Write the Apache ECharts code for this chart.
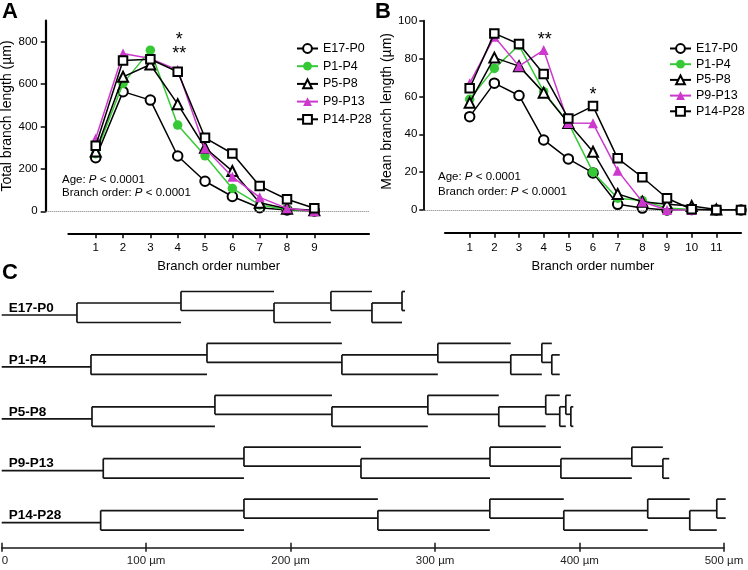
<!DOCTYPE html>
<html>
<head>
<meta charset="utf-8">
<script src="https://cdn.jsdelivr.net/npm/echarts@6/dist/echarts.min.js"></script>
<style>
html, body { margin: 0; padding: 0; background: #fff; }
#main { width: 748px; height: 570px; }
</style>
</head>
<body>
<div id="main"></div>
<script>
// age groups
var groups = ['E17-P0', 'P1-P4', 'P5-P8', 'P9-P13', 'P14-P28'];

// A: total branch length (um) per branch order
var ordersTotal = [1, 2, 3, 4, 5, 6, 7, 8, 9];
var totalE17 = [253, 565, 525, 261, 142, 70, 17, 6, 2];
var totalP1 = [272, 604, 761, 407, 262, 108, 30, 9, 2];
var totalP5 = [282, 635, 693, 506, 300, 190, 40, 12, 5];
var totalP9 = [344, 745, 721, 668, 297, 163, 66, 14, 0];
var totalP14 = [310, 712, 718, 659, 347, 273, 119, 57, 14];
var yTicksTotal = [0, 200, 400, 600, 800];
var xTicksTotal = [1, 2, 3, 4, 5, 6, 7, 8, 9];

// B: mean branch length (um) per branch order
var ordersMean = [1, 2, 3, 4, 5, 6, 7, 8, 9, 10, 11, 12];
var meanE17 = [49.3, 67, 60.5, 37, 27, 19.6, 3, 1, 0, 0.2, 0, 0];
var meanP1 = [58.5, 74.8, 87, 62.5, 46, 20, 6.2, 5, 1, 0.3, null, null];
var meanP5 = [56.7, 80.5, 76, 62, 46, 30.8, 8.5, 4.4, 3, 2.1, 0.3, null];
var meanP9 = [67, 91.5, 76, 84.5, 46, 45.8, 20.8, 4.4, 0, 0, null, null];
var meanP14 = [64.3, 93.3, 87.7, 71.8, 48.4, 54.9, 27.3, 17.3, 6.2, 0.4, 0, 0];
var xTicksMean = [1, 2, 3, 4, 5, 6, 7, 8, 9, 10, 11];

// C: dendrogram segment lengths (um), trunk first
var treeE17 = [52.1, 72.0, 64.4, 39.4, 28.4, 20.8, 2.1];
var treeP1 = [61.8, 80.3, 93.4, 66.4, 50.5, 21.5, 6.9, 5.5];
var treeP5 = [62.5, 85.1, 81.0, 66.4, 49.1, 32.5, 9.7, 4.2, 3.5, 1.7];
var treeP9 = [70.3, 97.4, 81.0, 89.3, 49.1, 49.1, 21.5, 4.4];
var treeP14 = [68.5, 99.2, 92.7, 77.5, 51.2, 58.1, 29.1, 18.7, 6.2];
var scaleTicks = [0, 100, 200, 300, 400, 500];

var totals = [totalE17, totalP1, totalP5, totalP9, totalP14];
var means = [meanE17, meanP1, meanP5, meanP9, meanP14];
var trees = [treeE17, treeP1, treeP5, treeP9, treeP14];

var FONT = 'Liberation Sans, Arial, Helvetica, sans-serif';
var colors = ['#000000', '#36c936', '#000000', '#cc39cc', '#000000'];
var symbols = ['emptyCircle', 'circle', 'emptyTriangle', 'triangle', 'emptyRect'];
var symbolSizes = [9.5, 9.5, 10, 10, 8.5];

// dendrogram layout (in grid C y units = px)
var rowStart = 35, rowGap = 51.9;
var lvTop = -23.5, lvUp = -12, lvLow = -4.5, lvBot = 7.5;

var myChart = echarts.init(document.getElementById('main'));

function lineSeries(i, vals, orders, xi, yi) {
    var data = [];
    for (var j = 0; j < vals.length; j++) {
        if (vals[j] == null) continue;
        data.push([orders[j], vals[j]]);
    }
    var s = {
        name: groups[i],
        type: 'line',
        xAxisIndex: xi,
        yAxisIndex: yi,
        data: data,
        symbol: symbols[i],
        symbolSize: symbolSizes[i],
        showAllSymbol: true,
        lineStyle: {color: colors[i], width: 1.5},
        itemStyle: {color: colors[i]},
        emphasis: {disabled: true},
        z: 3 + i
    };
    if (i == 0) {
        s.markLine = {
            silent: true,
            symbol: 'none',
            label: {show: false},
            lineStyle: {color: '#777', type: 'dotted', width: 1},
            data: [{yAxis: 0}]
        };
    }
    return s;
}

//画树
function renderTree(params, api) {
    var i = params.dataIndex;
    var segs = trees[i];
    var yc = rowStart + i * rowGap;
    var children = [];
    var st = {stroke: '#151515', lineWidth: 1.7};
    function seg(xa, ya, xb, yb) {
        var p1 = api.coord([xa, yc + ya]);
        var p2 = api.coord([xb, yc + yb]);
        children.push({type: 'line', shape: {x1: p1[0], y1: p1[1], x2: p2[0], y2: p2[1]}, style: st});
    }
    var x = segs[0];
    seg(0, 0, x, 0);
    for (var k = 1; k < segs.length; k++) {
        var odd = (k % 2 == 1);
        var yA = odd ? lvUp : lvTop;
        var yB = odd ? lvBot : lvLow;
        seg(x, yA, x, yB);
        seg(x, yA, x + segs[k], yA);
        seg(x, yB, x + segs[k], yB);
        x += segs[k];
    }
    var p0 = api.coord([0, yc]);
    children.push({
        type: 'text',
        x: p0[0] + 7,
        y: p0[1],
        style: {text: groups[i], fill: '#000', font: 'bold 13.5px ' + FONT, align: 'left', verticalAlign: 'bottom'}
    });
    return {type: 'group', children: children};
}

function statText(x, y, label) {
    return {
        type: 'text', x: x, y: y, silent: true,
        style: {
            text: label + ': {i|P} < 0.0001',
            fill: '#000', font: '11.5px ' + FONT,
            verticalAlign: 'middle',
            rich: {i: {fontStyle: 'italic', fontSize: 11.5, fontFamily: FONT, fill: '#000'}}
        }
    };
}

function plainText(x, y, txt, font, align) {
    return {
        type: 'text', x: x, y: y, silent: true,
        style: {text: txt, fill: '#000', font: font, align: align || 'left', verticalAlign: 'middle'}
    };
}

function visibleX(gi, max, ticks) {
    return {
        gridIndex: gi, type: 'value', min: 0, max: max, position: 'bottom',
        axisLine: {show: true, onZero: false, lineStyle: {color: '#000', width: 2.2}},
        axisTick: {show: true, customValues: ticks, length: 5, lineStyle: {color: '#000', width: 1.5}},
        axisLabel: {customValues: ticks, color: '#000', fontSize: 11.5, fontFamily: FONT, margin: 9},
        splitLine: {show: false},
        name: 'Branch order number', nameLocation: 'middle', nameGap: 27,
        nameTextStyle: {color: '#000', fontSize: 13, fontFamily: FONT}
    };
}

function hiddenAxis(gi, min, max) {
    return {gridIndex: gi, type: 'value', min: min, max: max, show: false, splitLine: {show: false}};
}

var series = [];
for (var i = 0; i < groups.length; i++) {
    series.push(lineSeries(i, totals[i], ordersTotal, 0, 0));
}
for (var i = 0; i < groups.length; i++) {
    series.push(lineSeries(i, means[i], ordersMean, 2, 2));
}
series.push({
    type: 'custom',
    xAxisIndex: 4,
    yAxisIndex: 4,
    data: groups.map(function (g, i) { return [0, i]; }),
    renderItem: renderTree,
    silent: true,
    clip: false
});

var option = {
    animation: false,
    backgroundColor: '#fff',
    textStyle: {fontFamily: FONT},
    grid: [
        {left: 45.7, top: 20.7, width: 323.3, height: 190.6, outerBoundsMode: 'none'},
        {left: 68.4, top: 228.3, width: 300.6, height: 5, outerBoundsMode: 'none'},
        {left: 423.3, top: 20.7, width: 317.7, height: 189.3, outerBoundsMode: 'none'},
        {left: 445, top: 227.7, width: 296, height: 5, outerBoundsMode: 'none'},
        {left: 1.7, top: 280, width: 722.3, height: 267.3, outerBoundsMode: 'none'}
    ],
    xAxis: [
        hiddenAxis(0, -0.83, 11),
        visibleX(1, 11, xTicksTotal),
        hiddenAxis(2, -0.88, 12),
        visibleX(3, 12, xTicksMean),
        {
            gridIndex: 4, type: 'value', min: 0, max: 500, interval: 100, position: 'bottom',
            axisLine: {show: true, onZero: false, lineStyle: {color: '#1a1a1a', width: 1.5}},
            axisTick: {show: true, customValues: scaleTicks, length: 4.5, lineStyle: {color: '#1a1a1a', width: 1.5}},
            axisLabel: {
                customValues: scaleTicks, color: '#222', fontSize: 11.5, fontFamily: FONT, margin: 8,
                alignMinLabel: 'left',
                formatter: function (v) { return v == 0 ? '0' : v + ' µm'; }
            },
            splitLine: {show: false}
        },
        {
            gridIndex: 4, type: 'value', min: 0, max: 500, interval: 100, position: 'bottom',
            axisLine: {show: false, onZero: false},
            axisTick: {show: true, inside: true, customValues: scaleTicks, length: 4.5, lineStyle: {color: '#1a1a1a', width: 1.5}},
            axisLabel: {show: false},
            splitLine: {show: false}
        }
    ],
    yAxis: [
        {
            gridIndex: 0, type: 'value', min: 0, max: 900,
            axisLine: {show: true, onZero: false, lineStyle: {color: '#000', width: 2.2}},
            axisTick: {show: true, customValues: yTicksTotal, length: 5, lineStyle: {color: '#000', width: 1.5}},
            axisLabel: {customValues: yTicksTotal, color: '#000', fontSize: 11.5, fontFamily: FONT, margin: 8},
            splitLine: {show: false},
            name: 'Total branch length (µm)', nameLocation: 'middle', nameGap: 28,
            nameTextStyle: {color: '#000', fontSize: 14, fontFamily: FONT}
        },
        hiddenAxis(1, 0, 1),
        {
            gridIndex: 2, type: 'value', min: 0, max: 100, interval: 20,
            axisLine: {show: true, onZero: false, lineStyle: {color: '#000', width: 1.8}},
            axisTick: {show: true, length: 4, lineStyle: {color: '#000', width: 1.5}},
            axisLabel: {color: '#000', fontSize: 11.5, fontFamily: FONT, margin: 6},
            splitLine: {show: false},
            name: 'Mean branch length (µm)', nameLocation: 'middle', nameGap: 29,
            nameTextStyle: {color: '#000', fontSize: 14, fontFamily: FONT, padding: [0, 0, 0, 8]}
        },
        hiddenAxis(3, 0, 1),
        {gridIndex: 4, type: 'value', min: 0, max: 267.3, inverse: true, show: false, splitLine: {show: false}}
    ],
    legend: [
        {
            orient: 'vertical', left: 291, top: 37, itemWidth: 21, itemHeight: 11, itemGap: 4.7,
            data: groups, selectedMode: false,
            textStyle: {color: '#000', fontSize: 12.5, fontFamily: FONT}
        },
        {
            orient: 'vertical', left: 664, top: 37, itemWidth: 21, itemHeight: 11, itemGap: 2.7,
            data: groups, selectedMode: false,
            textStyle: {color: '#000', fontSize: 12.5, fontFamily: FONT}
        }
    ],
    graphic: [
        plainText(2, 12, 'A', 'bold 22px ' + FONT),
        plainText(375, 12, 'B', 'bold 22px ' + FONT),
        plainText(2, 273, 'C', 'bold 22px ' + FONT),
        statText(62, 179.5, 'Age'),
        statText(62, 193, 'Branch order'),
        statText(438, 177, 'Age'),
        statText(438, 192, 'Branch order'),
        plainText(179.3, 40, '*', '18px ' + FONT, 'center'),
        plainText(179.3, 54, '**', '18px ' + FONT, 'center'),
        plainText(544.7, 40, '**', '18px ' + FONT, 'center'),
        plainText(593, 94.7, '*', '18px ' + FONT, 'center')
    ],
    series: series
};

myChart.setOption(option);
</script>
</body>
</html>
